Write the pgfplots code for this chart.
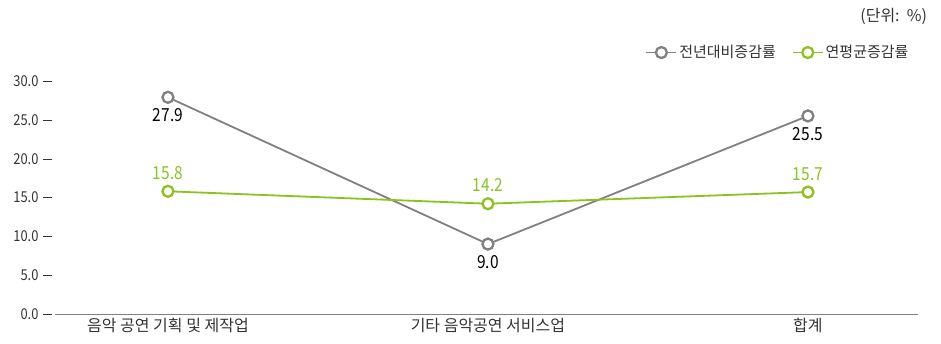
\documentclass[border=0pt]{standalone}
\usepackage{pgfplots}
\pgfplotsset{compat=1.18}
\usepackage{fontspec}
\setmainfont{Noto Sans CJK KR}
\newfontfamily\numfont[FakeStretch=0.86]{Noto Sans CJK KR}
\definecolor{lgray}{HTML}{808080}
\definecolor{lgreen}{HTML}{8CC21F}
\definecolor{txt}{HTML}{333333}
\begin{document}
\begin{tikzpicture}
\begin{axis}[
  at={(0pt,0pt)}, anchor=south west,
  scale only axis, width=863pt, height=233pt,
  xmin=-0.353, xmax=2.344, ymin=0, ymax=30,
  axis lines*=left,
  x axis line style={lgray, line width=1pt, -},
  y axis line style={draw=none},
  xtick={0,1,2},
  xticklabels={음악 공연 기획 및 제작업, 기타 음악공연 서비스업, 합계},
  xticklabel style={font=\fontsize{16}{18}\selectfont, text=txt, yshift=-1pt},
  ytick={0,5,...,30},
  yticklabel={\numfont\pgfmathprintnumber[fixed,fixed zerofill,precision=1]{\tick}\hspace{5pt}\textcolor{txt}{\rule[0.32em]{9pt}{0.7pt}}},
  yticklabel style={font=\fontsize{15}{17}\selectfont, text=txt, xshift=1pt},
  /pgf/number format/assume math mode=true,
  major tick length=0pt,
  tick style={draw=none},
  clip=false,
  legend style={draw=none, fill=none, font=\fontsize{15}{17}\selectfont, text=txt,
    at={(axis description cs:0.995,1.17)}, anchor=north east,
    legend columns=2, /tikz/every even column/.append style={column sep=14pt}},
  legend image code/.code={
    \draw[#1, mark=none] (0pt,0pt) -- (30pt,0pt);
    \draw[#1, only marks] plot coordinates {(15pt,0pt)};
  },
  nodes near coords,
  nodes near coords style={font=\numfont\fontsize{18}{20}\selectfont},
  point meta=explicit symbolic,
]
\addplot[lgray, line width=1.8pt, mark=*, mark size=5.5pt, mark options={fill=white, line width=2.3pt},
  nodes near coords style={text=black, anchor=north, yshift=-7pt}]
  coordinates {(0,27.9)[27.9] (1,9.0)[9.0] (2,25.5)[25.5]};
\addlegendentry{전년대비증감률}
\addplot[lgreen, line width=1.8pt, mark=*, mark size=5.5pt, mark options={fill=white, line width=2.3pt},
  nodes near coords style={text=lgreen, anchor=south, yshift=7pt}]
  coordinates {(0,15.8)[15.8] (1,14.2)[14.2] (2,15.7)[15.7]};
\addlegendentry{연평균증감률}
\node[anchor=east, font=\fontsize{16}{18}\selectfont, text=txt] at (axis description cs:1.0145,1.275) {(단위:\ \ \%)};
\end{axis}
\useasboundingbox (-55pt,-29pt) rectangle (886pt,314pt);
\end{tikzpicture}
\end{document}
